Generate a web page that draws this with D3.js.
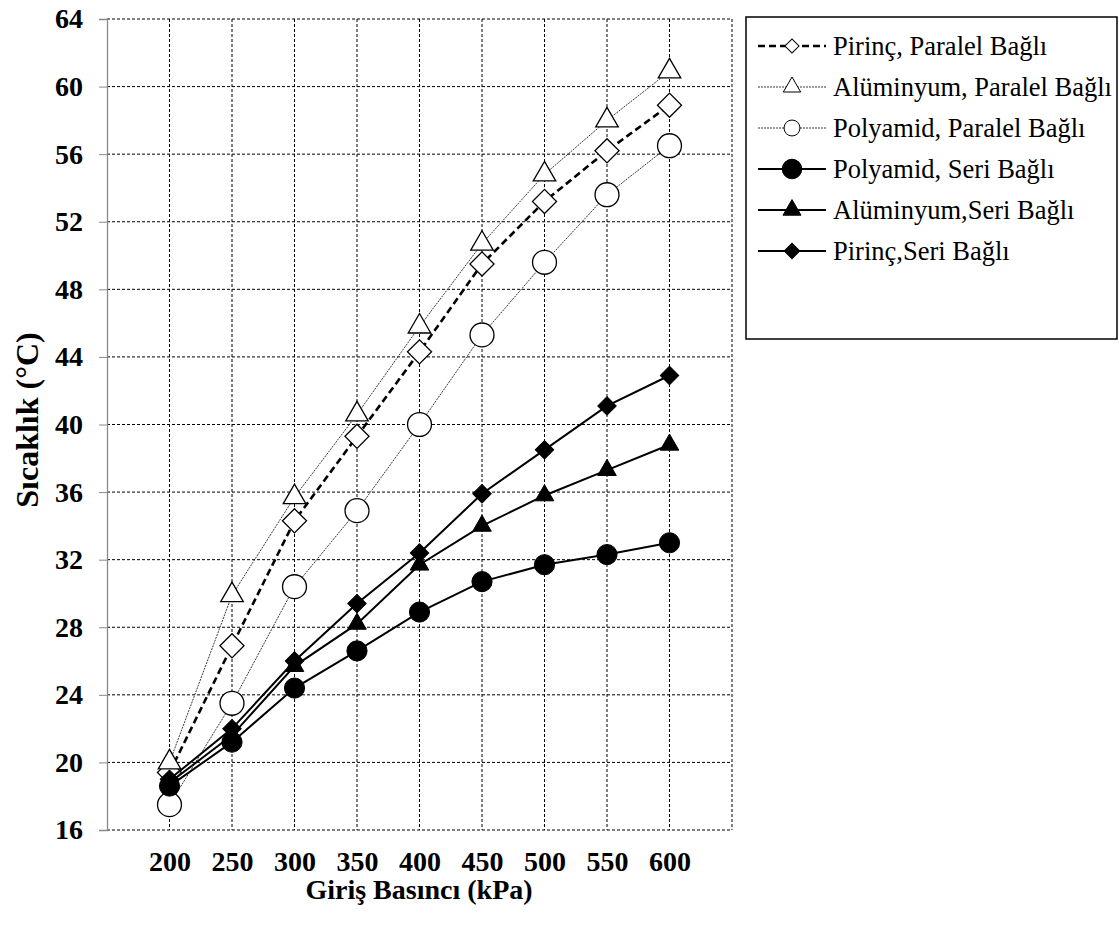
<!DOCTYPE html>
<html>
<head>
<meta charset="utf-8">
<title>Sıcaklık - Giriş Basıncı</title>
<script src="https://d3js.org/d3.v7.min.js"></script>
</head>
<body style="margin:0">
<svg id="chart" width="1119" height="925"></svg>
<script>
// data
var pressures = [200, 250, 300, 350, 400, 450, 500, 550, 600];
var yTicks = [16, 20, 24, 28, 32, 36, 40, 44, 48, 52, 56, 60, 64];

var seriesNames = [
  "Pirinç, Paralel Bağlı",
  "Alüminyum, Paralel Bağlı",
  "Polyamid, Paralel Bağlı",
  "Polyamid, Seri Bağlı",
  "Alüminyum,Seri Bağlı",
  "Pirinç,Seri Bağlı"
];
var pirincParalel    = [19.4, 26.9, 34.3, 39.3, 44.3, 49.5, 53.2, 56.2, 58.9];
var aluminyumParalel = [20.0, 29.9, 35.7, 40.6, 45.8, 50.7, 54.8, 58.0, 60.9];
var polyamidParalel  = [17.5, 23.5, 30.4, 34.9, 40.0, 45.3, 49.6, 53.6, 56.5];
var polyamidSeri     = [18.6, 21.2, 24.4, 26.6, 28.9, 30.7, 31.7, 32.3, 33.0];
var aluminyumSeri    = [18.8, 21.6, 25.7, 28.2, 31.7, 34.0, 35.8, 37.3, 38.8];
var pirincSeri       = [19.0, 22.0, 26.0, 29.4, 32.4, 35.9, 38.5, 41.1, 42.9];

// style per series (same order as the names)
var styles = [
  { values: pirincParalel,    shape: "diamond",  fill: "#fff", width: 2.6, dash: "7,4", color: "#000", size: 290, lsize: 100 },
  { values: aluminyumParalel, shape: "triangle", fill: "#fff", width: 0.9, dash: "2,1", color: "#222", size: 220, lsize: 130 },
  { values: polyamidParalel,  shape: "circle",   fill: "#fff", width: 0.9, dash: "2,1", color: "#222", size: 450, lsize: 200 },
  { values: polyamidSeri,     shape: "circle",   fill: "#000", width: 2,   dash: null,  color: "#000", size: 320, lsize: 300 },
  { values: aluminyumSeri,    shape: "triangle", fill: "#000", width: 2,   dash: null,  color: "#000", size: 150, lsize: 140 },
  { values: pirincSeri,       shape: "diamond",  fill: "#000", width: 2,   dash: null,  color: "#000", size: 170, lsize: 120 }
];

var fontName = "'Liberation Serif'";
var svg = d3.select("#chart");
var plotLeft = 107, plotRight = 732, plotTop = 19, plotBottom = 830;

var x = d3.scaleLinear().domain([150, 650]).range([plotLeft, plotRight]);
var y = d3.scaleLinear().domain([16, 64]).range([plotBottom, plotTop]);

// diamond = square turned 45 degrees
var symbolFor = { diamond: d3.symbolSquare, triangle: d3.symbolTriangle, circle: d3.symbolCircle };
function turn(s) { return s.shape === "diamond" ? " rotate(45)" : ""; }

// grid
var grid = svg.append("g");
grid.selectAll(".hgrid")
  .data(yTicks)
  .enter()
  .append("line")
  .attr("x1", plotLeft).attr("x2", plotRight)
  .attr("y1", function(d) { return y(d); })
  .attr("y2", function(d) { return y(d); })
  .attr("stroke", "#000").attr("stroke-width", 1).attr("stroke-dasharray", "3,2");

grid.selectAll(".vgrid")
  .data(pressures.concat([650]))
  .enter()
  .append("line")
  .attr("x1", function(d) { return x(d); })
  .attr("x2", function(d) { return x(d); })
  .attr("y1", plotTop).attr("y2", plotBottom)
  .attr("stroke", "#000").attr("stroke-width", 1).attr("stroke-dasharray", "3,2");

// y axis
var yAxis = d3.axisLeft(y).tickValues(yTicks).tickSize(8).tickPadding(16);
var ya = svg.append("g").attr("transform", "translate(" + plotLeft + ",0)").call(yAxis);
ya.select(".domain").attr("stroke", "#888").attr("stroke-width", 1.3);
ya.selectAll(".tick line").attr("stroke", "#888");

// x axis labels
var xAxis = d3.axisBottom(x).tickValues(pressures).tickSize(0).tickPadding(21);
var xa = svg.append("g").attr("transform", "translate(0," + plotBottom + ")").call(xAxis);
xa.select(".domain").remove();

ya.attr("font-family", fontName).attr("font-size", 28).attr("font-weight", "bold");
xa.attr("font-family", fontName).attr("font-size", 28).attr("font-weight", "bold");
svg.selectAll(".tick text").attr("fill", "#000");

// lines and markers
var line = d3.line()
  .x(function(d, i) { return x(pressures[i]); })
  .y(function(d) { return y(d); });

styles.forEach(function(s) {
  svg.append("path")
    .datum(s.values)
    .attr("d", line)
    .attr("fill", "none")
    .attr("stroke", s.color)
    .attr("stroke-width", s.width)
    .attr("stroke-dasharray", s.dash);

  svg.selectAll(null)
    .data(s.values)
    .enter()
    .append("path")
    .attr("d", d3.symbol().type(symbolFor[s.shape]).size(s.size))
    .attr("transform", function(d, i) { return "translate(" + x(pressures[i]) + "," + y(d) + ")" + turn(s); })
    .attr("fill", s.fill)
    .attr("stroke", "#000")
    .attr("stroke-width", s.fill === "#fff" ? 1.3 : 1);
});

// axis titles
svg.append("text")
  .attr("x", 419).attr("y", 899)
  .attr("text-anchor", "middle")
  .attr("font-family", fontName).attr("font-size", 28).attr("font-weight", "bold")
  .text("Giriş Basıncı (kPa)");

svg.append("text")
  .attr("transform", "translate(38,420) rotate(-90)")
  .attr("text-anchor", "middle")
  .attr("font-family", fontName).attr("font-size", 32).attr("font-weight", "bold")
  .text("Sıcaklık (°C)");

// legend
var legend = svg.append("g");
legend.append("rect")
  .attr("x", 746).attr("y", 17)
  .attr("width", 371).attr("height", 322)
  .attr("fill", "#fff").attr("stroke", "#000").attr("stroke-width", 1.5);

var items = legend.selectAll(".item")
  .data(styles)
  .enter()
  .append("g")
  .attr("transform", function(d, i) { return "translate(0," + (46 + i * 41) + ")"; });

items.append("line")
  .attr("x1", 758).attr("x2", 826).attr("y1", 0).attr("y2", 0)
  .attr("stroke", function(d) { return d.color; })
  .attr("stroke-width", function(d) { return d.width; })
  .attr("stroke-dasharray", function(d) { return d.dash; });

items.append("path")
  .attr("d", function(d) { return d3.symbol().type(symbolFor[d.shape]).size(d.lsize)(); })
  .attr("transform", function(d) { return "translate(792,0)" + turn(d); })
  .attr("fill", function(d) { return d.fill; })
  .attr("stroke", "#000")
  .attr("stroke-width", 1);

items.append("text")
  .attr("x", 833).attr("y", 9)
  .attr("font-family", fontName).attr("font-size", 26.5)
  .text(function(d, i) { return seriesNames[i]; });
</script>
</body>
</html>
